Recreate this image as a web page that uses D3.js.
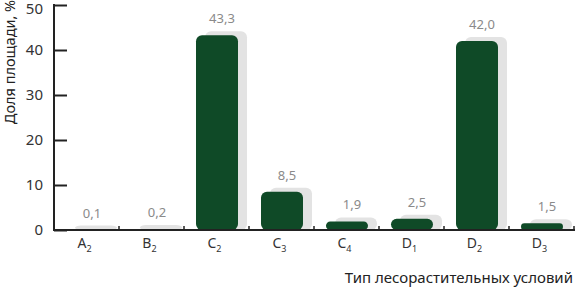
<!DOCTYPE html>
<html>
<head>
<meta charset="utf-8">
<script src="https://cdn.jsdelivr.net/npm/d3@7"></script>
<style>
  body { margin: 0; background: #fff; }
  svg { display: block; font-family: 'Noto Sans', sans-serif; }
</style>
</head>
<body>
<svg id="chart" width="575" height="288"></svg>
<script>
const categories = ['A', 'B', 'C', 'C', 'C', 'D', 'D', 'D'];
const subscripts = ['2', '2', '2', '3', '4', '1', '2', '3'];
const values = [0.1, 0.2, 43.3, 8.5, 1.9, 2.5, 42.0, 1.5];
const yTicks = [0, 10, 20, 30, 40, 50];

const svg = d3.select('#chart');
const plotLeft = 54, plotRight = 574, plotTop = 5, plotBottom = 230;

const x = d3.scaleBand().domain(d3.range(values.length)).range([plotLeft, plotRight]);
const y = d3.scaleLinear().domain([0, 50]).range([plotBottom, plotTop]);

const fmt = v => v.toFixed(1).replace('.', ',');
const barW = 42, off = 12, r = 6;

// shadow bars
svg.append('g').selectAll('rect')
  .data(values)
  .join('rect')
  .attr('x', (d, i) => x(i) + off + 9)
  .attr('y', d => y(d) - 4)
  .attr('width', barW)
  .attr('height', d => plotBottom - y(d) + 4)
  .attr('rx', r)
  .attr('fill', '#e3e3e3');

// main bars
svg.append('g').selectAll('rect')
  .data(values)
  .join('rect')
  .attr('x', (d, i) => x(i) + off)
  .attr('y', d => y(d))
  .attr('width', barW)
  .attr('height', d => Math.max(plotBottom - y(d), 0))
  .attr('rx', d => Math.min(r, (plotBottom - y(d)) / 2))
  .attr('fill', '#0f4a27');

// value labels
svg.append('g').selectAll('text')
  .data(values)
  .join('text')
  .attr('x', (d, i) => x(i) + off + barW / 2 + 5)
  .attr('y', d => y(d) - 12)
  .attr('text-anchor', 'middle')
  .attr('font-size', 13)
  .attr('fill', '#8a8a8a')
  .text(fmt);

// y axis
const axisY = d3.axisRight(y).tickValues(yTicks).tickSize(13).tickFormat('');
const gy = svg.append('g').attr('transform', `translate(${plotLeft},0)`).call(axisY);
gy.select('.domain').remove();
gy.selectAll('line').attr('stroke', '#222').attr('stroke-width', 2);
svg.append('line').attr('x1', plotLeft).attr('x2', plotLeft).attr('y1', plotTop - 1).attr('y2', plotBottom + 1)
  .attr('stroke', '#222').attr('stroke-width', 2);

svg.append('g').selectAll('text')
  .data(yTicks)
  .join('text')
  .attr('x', 43)
  .attr('y', d => Math.max(y(d) + 5, 14))
  .attr('text-anchor', 'end')
  .attr('font-size', 15)
  .attr('fill', '#333')
  .text(d => d);

// x axis
svg.append('line').attr('x1', plotLeft).attr('x2', 575).attr('y1', plotBottom).attr('y2', plotBottom)
  .attr('stroke', '#222').attr('stroke-width', 2);
svg.append('g').selectAll('line')
  .data(d3.range(1, values.length + 1))
  .join('line')
  .attr('x1', i => plotLeft + x.bandwidth() * i)
  .attr('x2', i => plotLeft + x.bandwidth() * i)
  .attr('y1', plotBottom)
  .attr('y2', plotBottom - 4)
  .attr('stroke', '#222')
  .attr('stroke-width', 1.5);

const cat = svg.append('g').selectAll('text')
  .data(categories)
  .join('text')
  .attr('x', (d, i) => x(i) + x.bandwidth() / 2 - 2)
  .attr('y', 248)
  .attr('text-anchor', 'middle')
  .attr('font-size', 14)
  .attr('fill', '#333');
cat.append('tspan').text(d => d);
cat.append('tspan').attr('dy', 4).attr('font-size', 9).text((d, i) => subscripts[i]);

// axis titles
svg.append('text')
  .attr('x', 573)
  .attr('y', 283)
  .attr('text-anchor', 'end')
  .attr('font-size', 15)
  .attr('fill', '#222')
  .text('Тип лесорастительных условий');

svg.append('text')
  .attr('transform', 'translate(15,62) rotate(-90)')
  .attr('text-anchor', 'middle')
  .attr('font-size', 14.5)
  .attr('fill', '#222')
  .text('Доля площади, %');
</script>
</body>
</html>
